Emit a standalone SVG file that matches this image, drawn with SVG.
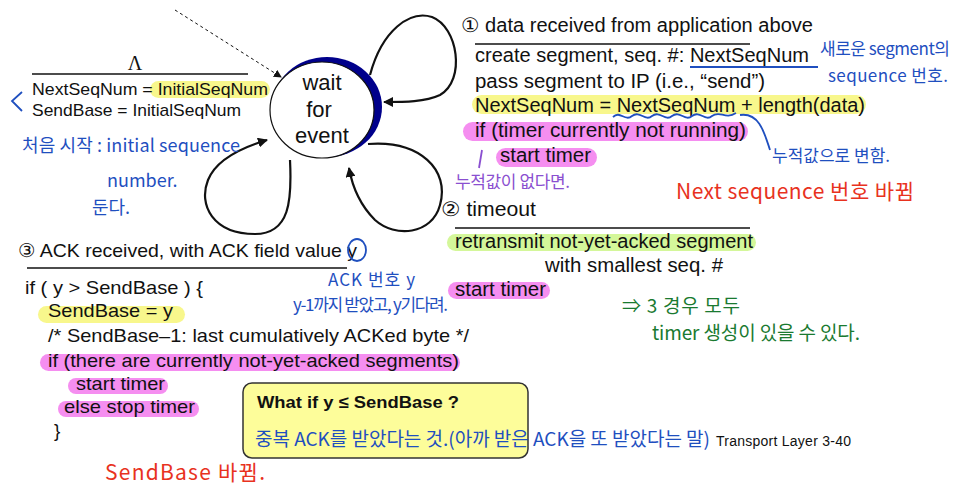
<svg xmlns="http://www.w3.org/2000/svg" width="962" height="498" viewBox="0 0 962 498">
<defs>
<style>
.t{font-family:"Liberation Sans",Arial,sans-serif;font-size:19px;fill:#111}
.r{font-family:"Liberation Sans",Arial,sans-serif;font-size:19.5px;fill:#111}
.s{font-family:"Liberation Sans",Arial,sans-serif;font-size:17px;fill:#111}
.hy{fill:#f8f78c}
.hp{fill:#f58ef0}
.hg{fill:#d4f79a}
.bar{stroke:#111;stroke-width:1.3}
.loop{fill:none;stroke:#111;stroke-width:2.2}
.hw{font-family:"Noto Sans CJK KR","Liberation Sans",sans-serif;font-size:17px}
.blue{fill:#1f4fbf}
.bl{fill:none;stroke:#1f4fbf;stroke-width:1.8}
</style>
<marker id="ah" markerWidth="10" markerHeight="10" refX="9" refY="5" orient="auto" markerUnits="userSpaceOnUse"><path d="M0,0 L10,5 L0,10 Z" fill="#111"/></marker>
<marker id="ahs" markerWidth="8" markerHeight="8" refX="7" refY="4" orient="auto" markerUnits="userSpaceOnUse"><path d="M0,0 L8,4 L0,8 Z" fill="#111"/></marker>
</defs>
<rect width="962" height="498" fill="#fff"/>

<g id="connectors">
<path d="M175,10 L281,77" fill="none" stroke="#111" stroke-width="1" stroke-dasharray="3,3" marker-end="url(#ahs)"/>
<path class="loop" d="M370,75 C382,30 410,10 432,17 C458,27 466,80 440,95 C425,102 405,102 384,102" marker-end="url(#ah)"/>
<path class="loop" d="M368,144 C420,140 450,170 440,205 C432,235 395,238 375,220 C360,205 352,185 349,168" marker-end="url(#ah)"/>
<path class="loop" d="M290,160 C292,200 290,234 255,234 C213,234 198,205 208,180 C216,160 240,148 267,140" marker-end="url(#ah)"/>
</g>

<g id="node-wait">
<ellipse cx="327" cy="107" rx="55" ry="50" fill="#00008b"/>
<ellipse cx="322" cy="110" rx="52" ry="48" fill="#fff" stroke="#111" stroke-width="1.2"/>
<text class="t" x="322" y="90" text-anchor="middle" style="font-size:22px">wait</text>
<text class="t" x="319" y="117" text-anchor="middle" style="font-size:22px">for</text>
<text class="t" x="322" y="143" text-anchor="middle" style="font-size:22px">event</text>
</g>

<g id="init">
<text x="135" y="70" text-anchor="middle" style="font-family:'Liberation Serif',serif;font-size:20px;fill:#111">Λ</text>
<line class="bar" x1="32" y1="74" x2="248" y2="74"/>
<rect class="hy" x="150" y="81" width="120" height="17" rx="8.5"/>
<text class="s" x="32" y="95" textLength="236" lengthAdjust="spacingAndGlyphs">NextSeqNum = InitialSeqNum</text>
<text class="s" x="32" y="116" textLength="209" lengthAdjust="spacingAndGlyphs">SendBase = InitialSeqNum</text>
</g>

<g id="event1">
<text class="r" x="461" y="32" textLength="352" lengthAdjust="spacingAndGlyphs">① data received from application above</text>
<line class="bar" x1="475" y1="44" x2="750" y2="44"/>
<text class="r" x="475" y="62" textLength="334" lengthAdjust="spacingAndGlyphs">create segment, seq. #: NextSeqNum</text>
<text class="r" x="475" y="88" textLength="290" lengthAdjust="spacingAndGlyphs">pass segment to IP (i.e., “send”)</text>
<rect class="hy" x="472" y="95" width="394" height="19" rx="9.5"/>
<text class="r" x="475" y="112" textLength="390" lengthAdjust="spacingAndGlyphs">NextSeqNum = NextSeqNum + length(data)</text>
<rect class="hp" x="463" y="122" width="285" height="19" rx="9.5"/>
<text class="r" x="475" y="137" textLength="271" lengthAdjust="spacingAndGlyphs">if (timer currently not running)</text>
<rect class="hp" x="496" y="148" width="101" height="19" rx="9.5"/>
<text class="r" x="500" y="162" textLength="91" lengthAdjust="spacingAndGlyphs">start timer</text>
</g>

<g id="event2">
<text class="r" x="441" y="216" textLength="95" lengthAdjust="spacingAndGlyphs">② timeout</text>
<line class="bar" x1="455" y1="228" x2="750" y2="228"/>
<rect class="hg" x="447" y="234" width="309" height="17" rx="8.5"/>
<text class="r" x="455" y="248" textLength="298" lengthAdjust="spacingAndGlyphs">retransmit not-yet-acked segment</text>
<text class="r" x="545" y="272" textLength="178" lengthAdjust="spacingAndGlyphs">with smallest seq. #</text>
<rect class="hp" x="448" y="282" width="102" height="17" rx="8.5"/>
<text class="r" x="455" y="296" textLength="91" lengthAdjust="spacingAndGlyphs">start timer</text>
</g>

<g id="event3">
<text class="t" x="18" y="257" textLength="339" lengthAdjust="spacingAndGlyphs">③ ACK received, with ACK field value y</text>
<line class="bar" x1="27" y1="268" x2="347" y2="268"/>
<text class="t" x="25" y="294" textLength="178" lengthAdjust="spacingAndGlyphs">if ( y &gt; SendBase ) {</text>
<rect class="hy" x="38" y="306" width="147" height="17" rx="8.5"/>
<text class="t" x="48" y="317" textLength="125" lengthAdjust="spacingAndGlyphs">SendBase = y</text>
<text class="t" x="48" y="342" textLength="421" lengthAdjust="spacingAndGlyphs">/* SendBase–1: last cumulatively ACKed byte */</text>
<rect class="hp" x="40" y="354" width="420" height="17" rx="8.5"/>
<text class="t" x="48" y="367" textLength="411" lengthAdjust="spacingAndGlyphs">if (there are currently not-yet-acked segments)</text>
<rect class="hp" x="68" y="378" width="100" height="16" rx="8"/>
<text class="t" x="76" y="390" textLength="89" lengthAdjust="spacingAndGlyphs">start timer</text>
<rect class="hp" x="58" y="401" width="141" height="16" rx="8"/>
<text class="t" x="64" y="413" textLength="131" lengthAdjust="spacingAndGlyphs">else stop timer</text>
<text class="t" x="54" y="437">}</text>
</g>

<g id="note-box">
<rect x="243" y="383" width="285" height="75" rx="9" fill="#fdfd9a" stroke="#333" stroke-width="1.5"/>
<text x="257" y="408" textLength="202" lengthAdjust="spacingAndGlyphs" style="font-family:'Liberation Sans',Arial,sans-serif;font-size:17px;font-weight:bold;fill:#111">What if y ≤ SendBase ?</text>
</g>

<text x="716" y="446" textLength="135" style="font-family:'Liberation Sans',Arial,sans-serif;font-size:14px;fill:#111">Transport Layer 3-40</text>

<g id="annotations">
<path class="bl" d="M22,92 L12,101 L22,111"/>
<text class="hw blue" x="22" y="152" textLength="218" style="font-size:18px">처음 시작 : initial sequence</text>
<text class="hw blue" x="107" y="187" style="font-size:18px">number.</text>
<text class="hw blue" x="92" y="214" style="font-size:18px">둔다.</text>
<path class="bl" d="M690,67 L818,67"/>
<text class="hw blue" x="820" y="55" textLength="130">새로운 segment의</text>
<text class="hw blue" x="828" y="82" textLength="120">sequence 번호.</text>
<path class="bl" d="M613,117 C620,110 625,122 632,116 C640,110 645,122 652,116 C660,110 665,122 672,116 C680,110 685,122 692,116 C700,110 705,122 712,116 C720,110 725,120 736,113"/>
<path class="bl" d="M740,115 C760,112 765,135 770,150"/>
<text class="hw blue" x="772" y="162" textLength="118">누적값으로 변함.</text>
<path d="M482,150 L479,168" fill="none" stroke="#8a4fd0" stroke-width="1.8"/>
<text class="hw" x="455" y="188" textLength="115" style="fill:#8a4fd0">누적값이 없다면.</text>
<text class="hw" x="676" y="199" textLength="238" style="fill:#e8321e;font-size:21px">Next sequence 번호 바뀜</text>
<text class="hw" x="622" y="313" textLength="118" style="fill:#1a7a30;font-size:19px">⇒ 3 경우 모두</text>
<text class="hw" x="652" y="340" textLength="208" style="fill:#1a7a30;font-size:19px">timer 생성이 있을 수 있다.</text>
<ellipse cx="357" cy="250" rx="9" ry="11" class="bl"/>
<text class="hw blue" x="328" y="286" textLength="87">ACK 번호 y</text>
<text class="hw blue" x="293" y="311" textLength="155">y-1까지 받았고, y기다려.</text>
<text class="hw" x="105" y="480" textLength="160" style="fill:#e8321e;font-size:21px">SendBase 바뀜.</text>
<text class="hw blue" x="255" y="446" textLength="455" style="font-size:19px">중복 ACK를 받았다는 것.(아까 받은 ACK을 또 받았다는 말)</text>
</g>
</svg>
